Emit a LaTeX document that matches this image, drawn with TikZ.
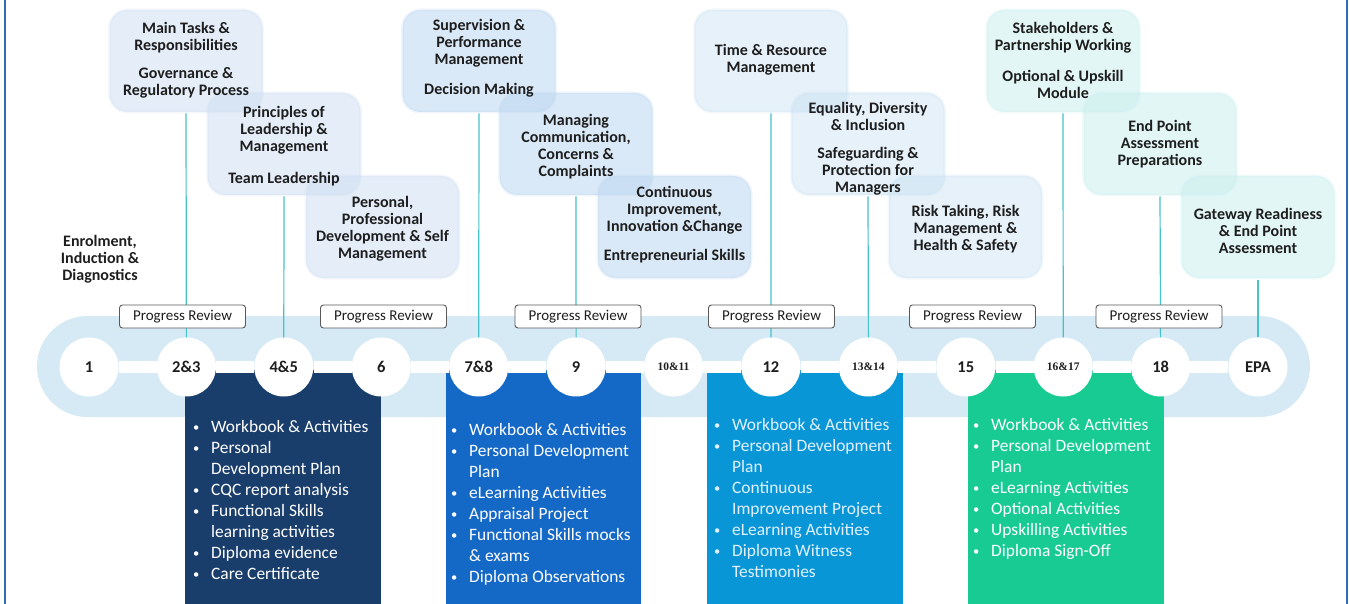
\documentclass[tikz,border=0pt]{standalone}
\usepackage{graphicx}
\usepackage{fontspec}
\setmainfont{Carlito}
\newfontfamily\numserif{Liberation Serif}
\definecolor{capsule}{HTML}{D6EAF5}
\definecolor{navy}{HTML}{1A3E6C}
\definecolor{bblue}{HTML}{1468C6}
\definecolor{sky}{HTML}{0896D6}
\definecolor{mint}{HTML}{17CB93}
\definecolor{tealline}{HTML}{45C3C9}
\definecolor{framecol}{HTML}{2F6DB5}
\definecolor{ink}{HTML}{1E1E1E}
\definecolor{tbA}{HTML}{CFE0F3}
\definecolor{tbB}{HTML}{BDD7F1}
\definecolor{tbC}{HTML}{C8E1F3}
\definecolor{tbD}{HTML}{C9EFEE}
\definecolor{skytext}{HTML}{E2F1FF}
\newcommand{\bl}[1]{\makebox[19pt][l]{\hspace*{1pt}\raisebox{0.5pt}{\scalebox{0.72}{\textbullet}}}#1}
\newcommand{\cl}[1]{\hspace*{19pt}#1}
\begin{document}
\begin{tikzpicture}[x=1pt,y=-1pt,
  topicbox/.style={rounded corners=18pt, minimum width=153pt, minimum height=102pt, inner sep=0pt, fill opacity=0.55, draw opacity=0.22, line width=3pt},
  tA/.style={topicbox, fill=tbA, draw=tbA},
  tB/.style={topicbox, fill=tbB, draw=tbB},
  tC/.style={topicbox, fill=tbC, draw=tbC, fill opacity=0.45},
  tD/.style={topicbox, fill=tbD, draw=tbD, fill opacity=0.5},
  topictxt/.style={align=center, inner sep=0pt, text=ink, font=\fontsize{16}{17}\selectfont\bfseries},
  band/.style={fill=capsule, minimum width=1273pt, minimum height=101pt, rounded corners=50.5pt, inner sep=0pt},
  colbox/.style={minimum width=196pt, minimum height=234pt, inner sep=0pt},
  numcirc/.style={circle, fill=white, minimum size=59pt, inner sep=0pt, text=ink, font=\fontsize{16.5}{18}\selectfont\bfseries},
  smallnum/.style={numcirc, font=\numserif\fontsize{11.5}{13}\selectfont\bfseries},
  prbox/.style={draw=black!65, line width=0.9pt, fill=white, rounded corners=3pt, minimum width=126pt, minimum height=23pt, inner sep=0pt, font=\fontsize{15}{16}\selectfont, text=ink},
  conn/.style={draw=tealline, line width=1.2pt},
  barline/.style={draw=white, line width=12pt},
  listtxt/.style={anchor=north west, align=left, inner sep=0pt, font=\fontsize{17.4}{21}\selectfont, text=white}
]
\useasboundingbox (0,0) rectangle (1349,604);
\fill[white] (0,0) rectangle (1349,604);
\draw[framecol, line width=2pt] (5,0) -- (5,604);
\draw[framecol, line width=2pt] (1347,0) -- (1347,604);

% topic boxes (fills)
\node[tA] (t1) at (186,61) {};
\node[tA] (t2) at (284,144) {};
\node[tA] (t3) at (382.5,227) {};
\node[tB] (t4) at (479,61) {};
\node[tB] (t5) at (576,144) {};
\node[tB] (t6) at (674.5,227) {};
\node[tC] (t7) at (771,61) {};
\node[tC] (t8) at (868,144) {};
\node[tC] (t9) at (965.5,227) {};
\node[tD] (t10) at (1063,61) {};
\node[tD] (t11) at (1160,144) {};
\node[tD] (t12) at (1258,227) {};

% topic texts (positive yshift moves up)
\node[topictxt] (x1) at ([yshift=1]t1) {Main Tasks \&\\Responsibilities\\[11pt]Governance \&\\Regulatory Process};
\node[topictxt] (x2) at ([yshift=-2]t2) {Principles of\\Leadership \&\\Management\\[15pt]Team Leadership};
\node[topictxt] (x3) at ([yshift=-2]t3) {Personal,\\Professional\\Development \& Self\\Management};
\node[topictxt] (x4) at ([yshift=2.5]t4) {Supervision \&\\Performance\\Management\\[13pt]Decision Making};
\node[topictxt] (x5) at ([yshift=-3]t5) {Managing\\Communication,\\Concerns \&\\Complaints};
\node[topictxt] (x6) at ([yshift=2.5]t6) {Continuous\\Improvement,\\Innovation \&Change\\[12pt]Entrepreneurial Skills};
\node[topictxt] (x7) at ([yshift=1]t7) {Time \& Resource\\Management};
\node[topictxt] (x8) at ([yshift=-5]t8) {Equality, Diversity\\\& Inclusion\\[11pt]Safeguarding \&\\Protection for\\Managers};
\node[topictxt] (x9) at ([yshift=-2.5]t9) {Risk Taking, Risk\\Management \&\\Health \& Safety};
\node[topictxt] (x10) at ([yshift=1]t10) {Stakeholders \&\\Partnership Working\\[14pt]Optional \& Upskill\\Module};
\node[topictxt] (x11) at (t11) {End Point\\Assessment\\Preparations};
\node[topictxt] (x12) at ([yshift=-4]t12) {Gateway Readiness\\\& End Point\\Assessment};
\node[topictxt] (enrol) at (100,259) {Enrolment,\\Induction \&\\Diagnostics};

% timeline band
\node[band] (band) at (673.5,366.5) {};

% coloured boxes
\node[colbox, fill=navy] (b1) at (283,487) {};
\node[colbox, fill=bblue, minimum width=195pt] (b2) at (543.5,487) {};
\node[colbox, fill=sky] (b3) at (805,487) {};
\node[colbox, fill=mint] (b4) at (1066,487) {};

% circles
\node[numcirc] (c1) at (89,367) {1};
\node[numcirc] (c2) at (186.4,367) {2\&3};
\node[numcirc] (c3) at (283.8,367) {4\&5};
\node[numcirc] (c4) at (381.3,367) {6};
\node[numcirc] (c5) at (478.7,367) {7\&8};
\node[numcirc] (c6) at (576.1,367) {9};
\node[smallnum] (c7) at (673.5,367) {10\&11};
\node[numcirc] (c8) at (770.9,367) {12};
\node[smallnum] (c9) at (868.4,367) {13\&14};
\node[numcirc] (c10) at (965.8,367) {15};
\node[smallnum] (c11) at (1063.2,367) {16\&17};
\node[numcirc] (c12) at (1160.6,367) {18};
\node[numcirc] (c13) at (1258,367) {EPA};
\foreach \a/\b in {c1/c2,c2/c3,c3/c4,c4/c5,c5/c6,c6/c7,c7/c8,c8/c9,c9/c10,c10/c11,c11/c12,c12/c13}
  \draw[barline] (\a.east) -- (\b.west);

% connectors
\draw[conn] (t1.south) -- (c2.north);
\draw[conn] (t2.south) -- (c3.north);
\draw[conn] (t4.south) -- (c5.north);
\draw[conn] (t5.south) -- (c6.north);
\draw[conn] (t7.south) -- (c8.north);
\draw[conn] (t8.south) -- (c9.north);
\draw[conn] (t10.south) -- (c11.north);
\draw[conn] (t11.south) -- (c12.north);
\draw[conn] (t12.south) -- (c13.north);

% progress reviews
\node[prbox] (pr1) at (182.5,316.5) {Progress Review};
\node[prbox] (pr2) at (383.5,316.5) {Progress Review};
\node[prbox] (pr3) at (578,316.5) {Progress Review};
\node[prbox] (pr4) at (771.5,316.5) {Progress Review};
\node[prbox] (pr5) at (972.5,316.5) {Progress Review};
\node[prbox] (pr6) at (1159,316.5) {Progress Review};

% lists
\node[listtxt] (l1) at (192,420) {\bl{Workbook \& Activities}\\\bl{Personal}\\\cl{Development Plan}\\\bl{CQC report analysis}\\\bl{Functional Skills}\\\cl{learning activities}\\\bl{Diploma evidence}\\\bl{Care Certificate}};
\node[listtxt] (l2) at (450,423) {\bl{Workbook \& Activities}\\\bl{Personal Development}\\\cl{Plan}\\\bl{eLearning Activities}\\\bl{Appraisal Project}\\\bl{Functional Skills mocks}\\\cl{\& exams}\\\bl{Diploma Observations}};
\node[listtxt, text=skytext] (l3) at (713,418) {\bl{Workbook \& Activities}\\\bl{Personal Development}\\\cl{Plan}\\\bl{Continuous}\\\cl{Improvement Project}\\\bl{eLearning Activities}\\\bl{Diploma Witness}\\\cl{Testimonies}};
\node[listtxt] (l4) at (972,418) {\bl{Workbook \& Activities}\\\bl{Personal Development}\\\cl{Plan}\\\bl{eLearning Activities}\\\bl{Optional Activities}\\\bl{Upskilling Activities}\\\bl{Diploma Sign-Off}};
\end{tikzpicture}
\end{document}
